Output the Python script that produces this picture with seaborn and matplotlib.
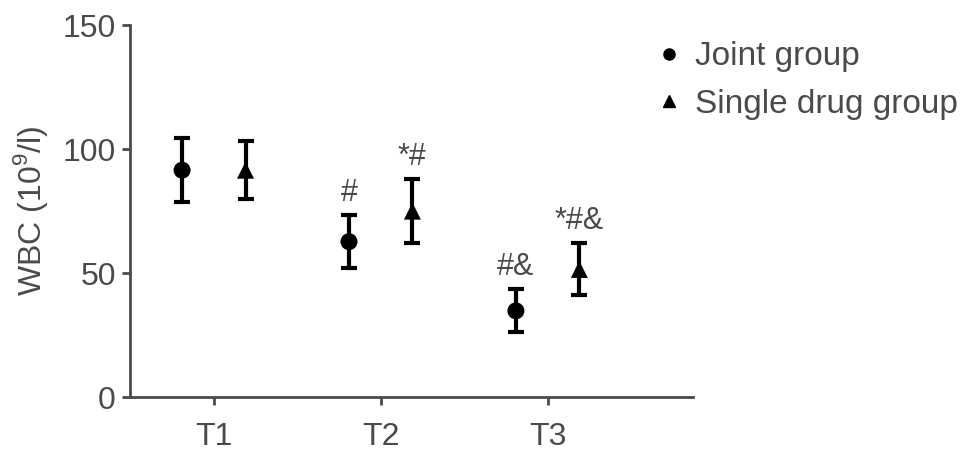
import matplotlib
matplotlib.use("Agg")
import matplotlib.pyplot as plt
import seaborn as sns
import numpy as np
import pandas as pd

times = ["T1", "T2", "T3"]
groups = ["Joint group", "Single drug group"]
joint_mean = [91.5, 62.7, 34.8]
joint_sd = [13.0, 10.7, 8.7]
single_mean = [91.5, 75.0, 51.5]
single_sd = [11.7, 12.8, 10.5]
joint_marks = ["", "#", "#&"]
single_marks = ["", "*#", "*#&"]

sns.set_theme(style="ticks")
plt.rcParams["font.family"] = ["Liberation Sans", "DejaVu Sans"]
plt.rcParams["mathtext.fontset"] = "custom"
plt.rcParams["mathtext.rm"] = "Liberation Sans"

gray = "#4a4a4a"
fig = plt.figure(figsize=(9.69, 4.55), dpi=100)
ax = fig.add_axes([0.134, 0.127, 0.581, 0.818])

df = pd.DataFrame({
    "time": times * 2,
    "group": [groups[0]] * 3 + [groups[1]] * 3,
    "mean": joint_mean + single_mean,
    "sd": joint_sd + single_sd,
    "mark": joint_marks + single_marks,
})
offsets = {groups[0]: -0.19, groups[1]: 0.19}
df["x"] = [times.index(t) + offsets[g] for t, g in zip(df["time"], df["group"])]

for g in groups:
    sub = df[df["group"] == g]
    ax.errorbar(sub["x"], sub["mean"], yerr=sub["sd"], fmt="none",
                ecolor="black", elinewidth=3, capsize=5.5, capthick=3, zorder=2)
    for _, r in sub.iterrows():
        if r["mark"]:
            ax.annotate(r["mark"], (r["x"], r["mean"] + r["sd"]), xytext=(0, 5),
                        textcoords="offset points", ha="center", va="bottom",
                        fontsize=22, color=gray)

sns.scatterplot(data=df, x="x", y="mean", style="group", markers=["o", "^"],
                style_order=groups, color="black", s=150, edgecolor="black",
                linewidth=0, ax=ax, zorder=3, legend=False)

ax.set_xlim(-0.503, 2.87)
ax.set_ylim(0, 150)
ax.set_xticks(range(len(times)))
ax.set_xticklabels(times)
ax.set_yticks([0, 50, 100, 150])
ax.set_xlabel("")
ax.set_ylabel("WBC (10$^9$/l)", fontsize=23, color=gray, labelpad=9)
ax.tick_params(axis="both", labelsize=23, colors=gray, width=2, length=6, pad=4)
ax.tick_params(axis="x", pad=12)
for s in ["left", "bottom"]:
    ax.spines[s].set_color(gray)
    ax.spines[s].set_linewidth(2)
sns.despine(ax=ax)

from matplotlib.lines import Line2D
handles = [Line2D([], [], marker="o", color="black", linestyle="", markersize=8),
           Line2D([], [], marker="^", color="black", linestyle="", markersize=8)]
fig.legend(handles, groups, loc="upper left", bbox_to_anchor=(0.642, 0.975),
           frameon=False, fontsize=24, labelcolor=gray, handletextpad=0.3,
           labelspacing=0.5, handlelength=1.0)

fig.savefig("out.png", dpi=100)
